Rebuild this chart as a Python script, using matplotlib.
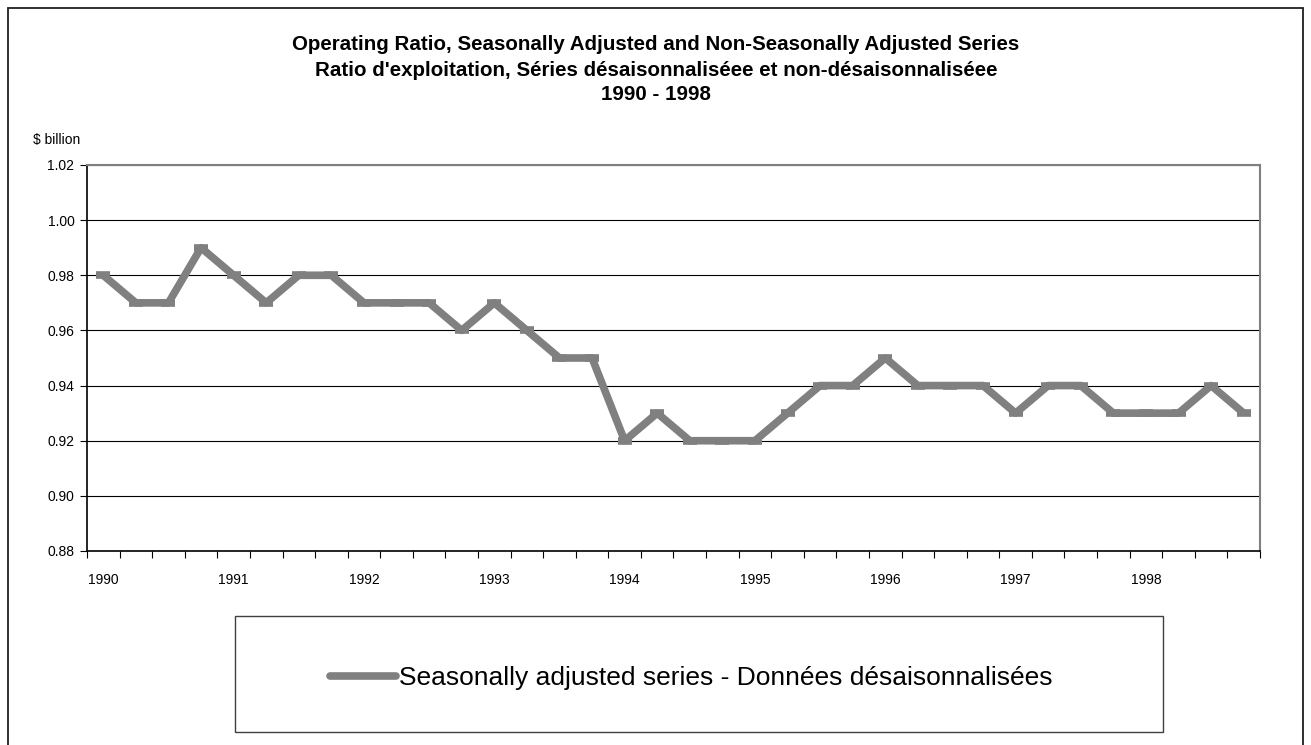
import matplotlib.pyplot as plt
from matplotlib.patches import Rectangle

plt.rcParams['font.family'] = ['Liberation Sans', 'DejaVu Sans']

years = ['1990', '1991', '1992', '1993', '1994', '1995', '1996', '1997', '1998']
# quarterly values, 1990 Q1 .. 1998 Q4
ratio = [0.98, 0.97, 0.97, 0.99,
         0.98, 0.97, 0.98, 0.98,
         0.97, 0.97, 0.97, 0.96,
         0.97, 0.96, 0.95, 0.95,
         0.92, 0.93, 0.92, 0.92,
         0.92, 0.93, 0.94, 0.94,
         0.95, 0.94, 0.94, 0.94,
         0.93, 0.94, 0.94, 0.93,
         0.93, 0.93, 0.94, 0.93]
yticks = [0.88, 0.90, 0.92, 0.94, 0.96, 0.98, 1.00, 1.02]

W, H = 1311, 745
fig = plt.figure(figsize=(W / 100, H / 100), dpi=100)
ax = fig.add_axes([87 / W, 1 - 551 / H, (1260 - 87) / W, (551 - 165) / H])

x = list(range(len(ratio)))
grey = '#808080'
ax.plot(x, ratio, color=grey, lw=5.5, solid_capstyle='butt', zorder=3,
        label='Seasonally adjusted series - Données désaisonnalisées')
ax.plot(x, ratio, ls='none', marker='_', ms=10, mew=5.5, color=grey, zorder=4)

ax.set_xlim(-0.5, len(ratio) - 0.5)
ax.set_ylim(0.88, 1.02)
ax.set_yticks(yticks)
ax.set_yticklabels(['%.2f' % v for v in yticks], fontsize=10)
ax.yaxis.grid(True, color='black', lw=0.8)
ax.set_axisbelow(True)

# year labels under Q1, tick marks between quarters
ax.set_xticks([4 * i for i in range(len(years))])
ax.set_xticklabels(years, fontsize=10)
ax.tick_params(axis='x', which='major', length=0, pad=16)
ax.set_xticks([i - 0.5 for i in range(len(ratio) + 1)], minor=True)
ax.tick_params(axis='x', which='minor', length=5, width=0.8, direction='out')
ax.tick_params(axis='y', length=5, width=0.8, direction='out', pad=4)

for s in ['top', 'right']:
    ax.spines[s].set_color(grey)
    ax.spines[s].set_linewidth(1.5)
ax.spines['left'].set_linewidth(1.2)
ax.spines['bottom'].set_linewidth(1.2)

fig.text(656 / W, 1 - 45 / H, 'Operating Ratio, Seasonally Adjusted and Non-Seasonally Adjusted Series',
         ha='center', va='center', fontsize=14.8, fontweight='bold')
fig.text(656 / W, 1 - 70 / H, "Ratio d'exploitation, Séries désaisonnaliséee et non-désaisonnaliséee",
         ha='center', va='center', fontsize=14.8, fontweight='bold')
fig.text(656 / W, 1 - 95 / H, '1990 - 1998',
         ha='center', va='center', fontsize=14.8, fontweight='bold')
fig.text(33 / W, 1 - 140 / H, '$ billion', ha='left', va='center', fontsize=10)

# outer chart frame
fig.patches.append(Rectangle((8 / W, -0.05), (1303 - 8) / W, 1.05 - 8 / H,
                             transform=fig.transFigure, fill=False,
                             edgecolor='#202020', lw=1.3))
# legend box
fig.patches.append(Rectangle((235 / W, 1 - 732 / H), (1163 - 235) / W, (732 - 616) / H,
                             transform=fig.transFigure, fill=False,
                             edgecolor='#404040', lw=1.0))
leg = fig.legend(loc='center', bbox_to_anchor=(691 / W, 1 - 678 / H), frameon=False,
                 fontsize=19, handlelength=2.5, handletextpad=0.1)
for h in leg.legend_handles:
    h.set_solid_capstyle('round')

fig.savefig('out.png', dpi=100)
